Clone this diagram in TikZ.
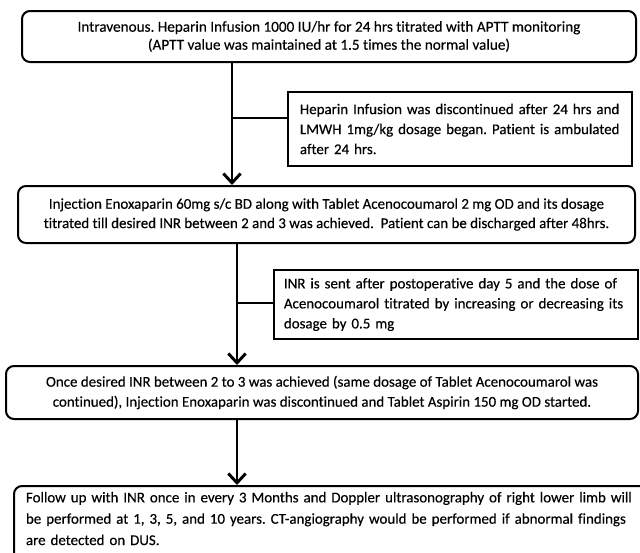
\documentclass[tikz,border=0pt]{standalone}
\usepackage{fontspec}
\setmainfont{Carlito}
\newfontfamily\boxfont{Carlito}[FakeBold=0.3,Ligatures=NoCommon]
\usetikzlibrary{arrows.meta}
\frenchspacing
\begin{document}
\begin{tikzpicture}[x=0.75pt,y=-0.75pt,
  flowbox/.style={draw, line width=1.5pt, rounded corners=6pt, align=center, inner sep=0pt},
  sidebox/.style={draw, line width=1.4pt, align=left, anchor=west, inner ysep=0pt},
  conn/.style={line width=2.2pt},
  arr/.style={conn, -{Straight Barb[length=7pt,width=13pt]}}]
\useasboundingbox (0,0) rectangle (640,553);
\clip (0,0) rectangle (640,553);

\node[flowbox, minimum width=460.5pt, minimum height=38.25pt,
      font=\boxfont\fontsize{11.4}{13.5}\selectfont] (b1) at (329,36.5)
  {Intravenous. Heparin Infusion 1000 IU/hr for 24 hrs titrated with APTT monitoring\\
   (APTT value was maintained at 1.5 times the normal value)};

\node[sidebox, inner xsep=9pt, text width=240pt, minimum height=55.5pt,
      font=\boxfont\fontsize{11.2}{15}\selectfont] (sA) at (287,129)
  {Heparin Infusion was discontinued after 24 hrs and\\
   LMWH 1mg/kg dosage began. Patient is ambulated\\
   after 24 hrs.};

\node[flowbox, minimum width=462.75pt, minimum height=42.75pt,
      font=\boxfont\fontsize{11.2}{14.5}\selectfont] (b2) at (326.5,214.5)
  {Injection Enoxaparin 60mg s/c BD along with Tablet Acenocoumarol 2 mg OD and its dosage\\
   titrated till desired INR between 2 and 3 was achieved.\ \ Patient can be discharged after 48hrs.};

\node[sidebox, inner xsep=7.5pt, text width=258pt, minimum height=51.75pt,
      font=\boxfont\fontsize{11.2}{15}\selectfont] (sB) at (273,304.5)
  {INR is sent after postoperative day 5 and the dose of\\
   Acenocoumarol titrated by increasing or decreasing its\\
   dosage by 0.5 mg};

\node[flowbox, minimum width=474pt, minimum height=39.75pt,
      font=\boxfont\fontsize{11.2}{15}\selectfont] (b3) at (322,392.5)
  {Once desired INR between 2 to 3 was achieved (same dosage of Tablet Acenocoumarol was\\
   continued), Injection Enoxaparin was discontinued and Tablet Aspirin 150 mg OD started.};

\node[flowbox, anchor=north west, align=left, inner xsep=9pt, inner ysep=4.5pt,
      text width=467pt, font=\boxfont\fontsize{11.2}{16}\selectfont] (b4) at (13,485)
  {Follow up with INR once in every 3 Months and Doppler ultrasonography of right lower limb will\\
   be performed at 1, 3, 5, and 10 years. CT-angiography would be performed if abnormal findings\\
   are detected on DUS.\\ \rule{0pt}{1pt}};

\coordinate (c1) at (232,0);
\coordinate (c2) at (237,0);
\coordinate (j1) at (232,118);
\coordinate (j2) at (237,303);

\draw[arr] (b1.south -| c1) -- (b2.north -| c1);
\draw[conn] (j1) -- (j1 -| sA.west);
\draw[arr] (b2.south -| c2) -- (b3.north -| c2);
\draw[conn] (j2) -- (j2 -| sB.west);
\draw[arr] (b3.south -| c2) -- (b4.north -| c2);
\end{tikzpicture}
\end{document}
